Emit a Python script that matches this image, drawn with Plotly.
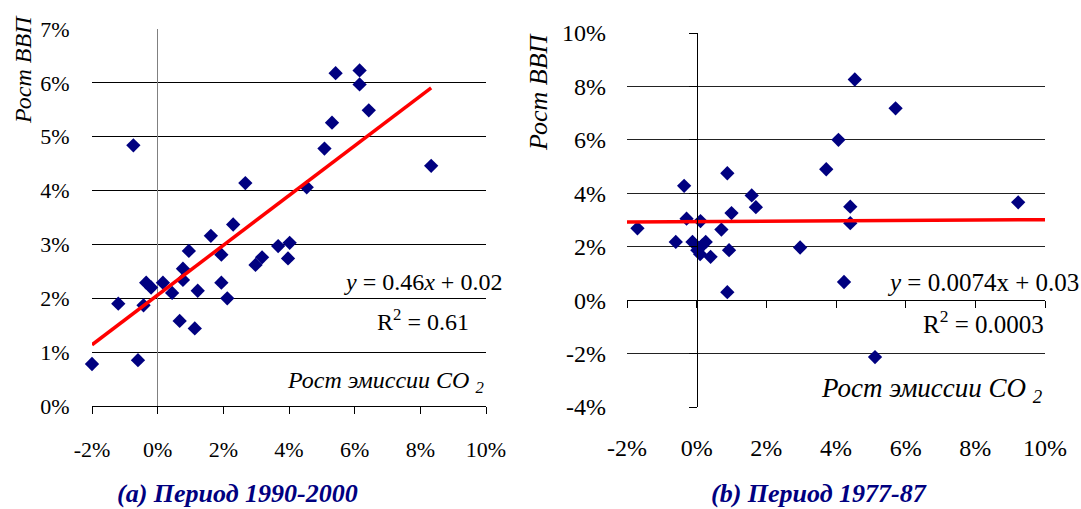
import plotly.graph_objects as go

# ---- data (fractions) ----
co2_a = [-0.0200, -0.0120, -0.0060, -0.0074, -0.0043, -0.0035, -0.0020, 0.0016, 0.0044, 0.0067,
         0.0077, 0.0077, 0.0095, 0.0113, 0.0122, 0.0162, 0.0194, 0.0194, 0.0212, 0.0230,
         0.0267, 0.0298, 0.0318, 0.0367, 0.0397, 0.0402, 0.0454, 0.0508, 0.0531, 0.0542,
         0.0615, 0.0615, 0.0643, 0.0833]
gdp_a = [0.0078, 0.0190, 0.0085, 0.0484, 0.0187, 0.0229, 0.0220, 0.0229, 0.0210, 0.0158,
         0.0255, 0.0234, 0.0288, 0.0144, 0.0214, 0.0316, 0.0281, 0.0229, 0.0200, 0.0337,
         0.0414, 0.0262, 0.0276, 0.0297, 0.0274, 0.0303, 0.0406, 0.0478, 0.0526, 0.0618,
         0.0623, 0.0597, 0.0549, 0.0446]

co2_b = [-0.0170, -0.0060, -0.0036, -0.0029, -0.0012, 0.0002, 0.0010, 0.0016, 0.0011, 0.0026,
         0.0040, 0.0071, 0.0088, 0.0088, 0.0093, 0.0100, 0.0158, 0.0170, 0.0297, 0.0372,
         0.0407, 0.0423, 0.0441, 0.0441, 0.0454, 0.0512, 0.0571, 0.0923]
gdp_b = [0.0269, 0.0218, 0.0428, 0.0305, 0.0218, 0.0187, 0.0172, 0.0205, 0.0296, 0.0218,
         0.0162, 0.0264, 0.0475, 0.0030, 0.0187, 0.0326, 0.0392, 0.0348, 0.0197, 0.0490,
         0.0600, 0.0068, 0.0350, 0.0288, 0.0826, -0.0213, 0.0718, 0.0366]

# trend lines (slope, intercept) and extents
trend_a = (0.462, 0.0206)
trend_a_x = [-0.0200, 0.0833]
trend_b = (0.0074, 0.0294)
trend_b_x = [-0.02, 0.10]

xtick_vals = [-0.02, 0.0, 0.02, 0.04, 0.06, 0.08, 0.10]
xtick_text = ["-2%", "0%", "2%", "4%", "6%", "8%", "10%"]
ytick_vals_a = [0.0, 0.01, 0.02, 0.03, 0.04, 0.05, 0.06, 0.07]
ytick_text_a = ["0%", "1%", "2%", "3%", "4%", "5%", "6%", "7%"]
ytick_vals_b = [-0.04, -0.02, 0.0, 0.02, 0.04, 0.06, 0.08, 0.10]
ytick_text_b = ["-4%", "-2%", "0%", "2%", "4%", "6%", "8%", "10%"]

W, H = 1081, 509
FONT = "Liberation Serif"
NAVY = "#000080"

# domains from pixel layout
xa_dom = [92 / W, 486 / W]
ya_dom = [1 - 406 / H, 1 - 29 / H]
xb_dom = [627 / W, 1045 / W]
yb_dom = [1 - 407 / H, 1 - 33 / H]

xr = [-0.02, 0.10]
yra = [0.0, 0.07]
yrb = [-0.04, 0.10]

fig = go.Figure()

marker = dict(symbol="diamond", size=11, color=NAVY, line=dict(width=0))

fig.add_trace(go.Scatter(x=co2_a, y=gdp_a, mode="markers", marker=marker,
                         xaxis="x", yaxis="y", showlegend=False, cliponaxis=False))
fig.add_trace(go.Scatter(x=trend_a_x, y=[trend_a[0] * v + trend_a[1] for v in trend_a_x],
                         mode="lines", line=dict(color="#ff0000", width=3.5),
                         xaxis="x", yaxis="y", showlegend=False))

fig.add_trace(go.Scatter(x=co2_b, y=gdp_b, mode="markers", marker=marker,
                         xaxis="x2", yaxis="y2", showlegend=False, cliponaxis=False))
fig.add_trace(go.Scatter(x=trend_b_x, y=[trend_b[0] * v + trend_b[1] for v in trend_b_x],
                         mode="lines", line=dict(color="#ff0000", width=3.5),
                         xaxis="x2", yaxis="y2", showlegend=False))

# invisible traces to activate overlay axes
fig.add_trace(go.Scatter(x=[None], y=[None], xaxis="x3", yaxis="y2", showlegend=False, hoverinfo="skip"))
fig.add_trace(go.Scatter(x=[None], y=[None], xaxis="x2", yaxis="y3", showlegend=False, hoverinfo="skip"))

tickfont_a = dict(family=FONT, size=22, color="black")
tickfont_b = dict(family=FONT, size=24, color="black")

# position of zero lines in paper coords for chart b
x0_paper = xb_dom[0] + (xb_dom[1] - xb_dom[0]) * (0 - xr[0]) / (xr[1] - xr[0])
y0_paper = yb_dom[0] + (yb_dom[1] - yb_dom[0]) * (0 - yrb[0]) / (yrb[1] - yrb[0])

fig.update_layout(
    width=W, height=H,
    margin=dict(l=0, r=0, t=0, b=0, autoexpand=False),
    paper_bgcolor="white", plot_bgcolor="white",
    font=dict(family=FONT, color="black"),
    xaxis=dict(domain=xa_dom, anchor="y", range=xr, tickvals=xtick_vals, ticktext=xtick_text,
               automargin=False,
               showgrid=False, zeroline=True, zerolinecolor="#808080", zerolinewidth=1,
               showline=True, linecolor="black", linewidth=1,
               ticks="outside", ticklen=7, tickcolor="black", tickwidth=1,
               ticklabelstandoff=17, tickfont=tickfont_a),
    yaxis=dict(domain=ya_dom, anchor="x", range=yra, tickvals=ytick_vals_a, ticktext=ytick_text_a,
               automargin=False,
               showgrid=True, gridcolor="black", gridwidth=1, zeroline=False, showline=False,
               ticks="outside", ticklen=17, tickcolor="rgba(0,0,0,0)", tickfont=tickfont_a),
    xaxis2=dict(domain=xb_dom, anchor="y2", range=xr, tickvals=xtick_vals, ticktext=xtick_text,
                automargin=False,
                showgrid=False, zeroline=False, showline=False, ticks="",
                ticklabelstandoff=24, tickfont=tickfont_b),
    yaxis2=dict(domain=yb_dom, anchor="x2", range=yrb, tickvals=ytick_vals_b, ticktext=ytick_text_b,
                automargin=False,
                showgrid=True, gridcolor="#222222", gridwidth=1, zeroline=False, showline=False,
                ticks="", ticklabelstandoff=20, tickfont=tickfont_b),
    xaxis3=dict(overlaying="x2", anchor="free", position=y0_paper, range=xr, tickvals=xtick_vals,
                automargin=False,
                showticklabels=False, showgrid=False, zeroline=False,
                showline=True, linecolor="black", linewidth=1,
                ticks="outside", ticklen=7, tickcolor="black", tickwidth=1),
    yaxis3=dict(overlaying="y2", anchor="free", position=x0_paper, range=yrb, tickvals=ytick_vals_b,
                automargin=False,
                showticklabels=False, showgrid=False, zeroline=False,
                showline=True, linecolor="black", linewidth=1,
                ticks="outside", ticklen=8, tickcolor="black", tickwidth=1),
)

ann_font_a = dict(family=FONT, size=24, color="black")
ann_font_b = dict(family=FONT, size=25, color="black")
ital_font_a = dict(family=FONT, size=24, color="black")
ital_font_b = dict(family=FONT, size=27, color="black")
ytitle_font_a = dict(family=FONT, size=24, color="black")
ytitle_font_b = dict(family=FONT, size=26, color="black")
title_font = dict(family=FONT, size=26, color=NAVY)

annotations = [
    # chart a
    dict(x=0.0808, y=0.0230, xref="x", yref="y", text="<i>y</i> = 0.46<i>x</i> + 0.02",
         showarrow=False, font=ann_font_a, xanchor="center", yanchor="middle"),
    dict(x=0.0808, y=0.0160, xref="x", yref="y", text="R<sup>2</sup> = 0.61",
         showarrow=False, font=ann_font_a, xanchor="center", yanchor="middle"),
    dict(x=0.10, y=0.0045, xref="x", yref="y", text="<i>Рост эмиссии CO <sub>2</sub></i>",
         showarrow=False, font=ital_font_a, xanchor="right", yanchor="middle"),
    dict(x=23 / W, y=1 - 70 / H, xref="paper", yref="paper", text="<i>Рост ВВП</i>",
         textangle=-90, showarrow=False, font=ytitle_font_a, xanchor="center", yanchor="middle"),
    dict(x=237 / W, y=1 - 493 / H, xref="paper", yref="paper", text="<b><i>(a) Период 1990-2000</i></b>",
         showarrow=False, font=title_font, xanchor="center", yanchor="middle"),
    # chart b
    dict(x=0.0822, y=0.0067, xref="x2", yref="y2", text="<i>y</i> = 0.0074x + 0.03",
         showarrow=False, font=ann_font_b, xanchor="center", yanchor="middle"),
    dict(x=0.0822, y=-0.0082, xref="x2", yref="y2", text="R<sup>2</sup> = 0.0003",
         showarrow=False, font=ann_font_b, xanchor="center", yanchor="middle"),
    dict(x=0.10, y=-0.0336, xref="x2", yref="y2", text="<i>Рост эмиссии CO <sub>2</sub></i>",
         showarrow=False, font=ital_font_b, xanchor="right", yanchor="middle"),
    dict(x=538 / W, y=1 - 92 / H, xref="paper", yref="paper", text="<i>Рост ВВП</i>",
         textangle=-90, showarrow=False, font=ytitle_font_b, xanchor="center", yanchor="middle"),
    dict(x=819 / W, y=1 - 493 / H, xref="paper", yref="paper", text="<b><i>(b) Период 1977-87</i></b>",
         showarrow=False, font=title_font, xanchor="center", yanchor="middle"),
]
fig.update_layout(annotations=annotations)

fig.write_html("out.html", config={"displayModeBar": False},
               post_script="document.body.style.margin='0';document.body.style.padding='0';")
